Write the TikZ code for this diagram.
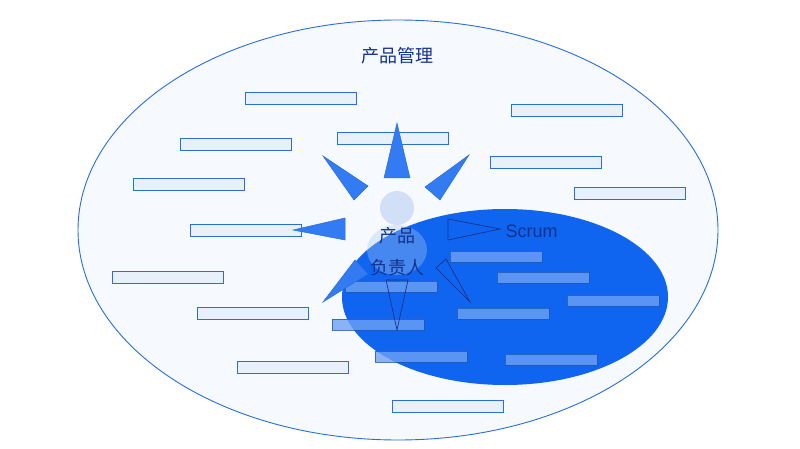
\documentclass[tikz,border=0pt]{standalone}
\usepackage{fontspec}
\usetikzlibrary{shapes.geometric}
\setmainfont{Liberation Sans}
\newfontfamily\cjk{Noto Sans CJK SC}
\definecolor{frameblue}{RGB}{40,110,220}
\definecolor{scrumblue}{RGB}{15,100,240}
\definecolor{barfill}{RGB}{232,240,250}
\definecolor{textblue}{RGB}{20,50,140}
\tikzset{taskbar/.style={draw=frameblue, fill=barfill, line width=0.9pt},
  ray/.style={fill=scrumblue!85!white, draw=frameblue, line width=0.5pt},
  rayopen/.style={draw=textblue, line width=0.7pt}}
\begin{document}
\begin{tikzpicture}[x=1pt, y=-1pt, font=\cjk\fontsize{18}{21}\selectfont]
  \useasboundingbox (0,0) rectangle (800,449);
  % Field
  \node[draw=frameblue, fill=barfill!40, line width=0.9pt, ellipse, minimum width=640pt, minimum height=420pt, inner sep=0pt] (field) at (398,230) {};
  \node[text=textblue] (title) at (397,56) {产品管理};
  % Backlog items
  \foreach \xa/\ya in {245/92, 180/138, 337/132, 511/104, 490/156, 133/178, 574/187, 190/224, 112/271, 197/307, 237/361, 392/400} {
    \draw[taskbar] (\xa,\ya) rectangle ++(111,12);
  }
  % Scrum team
  \fill[scrumblue] (505,297) ellipse (163pt and 88pt);
  \foreach \xa/\ya in {450/251, 497/272, 567/295, 457/308, 345/281, 332/319, 375/351, 505/354} {
    \draw[taskbar, draw=frameblue!80!black, fill=scrumblue!60!white, opacity=0.8] (\xa,\ya) rectangle ++(92,11);
  }
  % Owner
  \fill[barfill!70!frameblue, opacity=0.5] (397,208) circle (17pt);
  \fill[barfill!70!frameblue, opacity=0.35] (397,250) ellipse (30pt and 25pt);
  \draw[ray] (397,123) -- (410,178) -- (384,178) -- cycle;
  \draw[ray] (323,156) -- (368,186) -- (354,200) -- cycle;
  \draw[ray] (469,155) -- (440,200) -- (425,187) -- cycle;
  \draw[ray] (293,230) -- (345,218) -- (345,240) -- cycle;
  \draw[ray] (323,302) -- (355,260) -- (368,274) -- cycle;
  \draw[rayopen] (448,219) -- (500,229) -- (448,240) -- cycle;
  \draw[rayopen] (397,330) -- (386,280) -- (408,280) -- cycle;
  \draw[rayopen] (470,302) -- (436,268) -- (446,259) -- cycle;
  \node[text=textblue, font=\cjk\itshape\fontsize{18}{21}\selectfont] (owner) at (397,236) {产品};
  \node[text=textblue] (owner2) at (397,268) {负责人};
  \node[text=textblue, anchor=west, font=\fontsize{18}{21}\selectfont] (scrum) at (502,231) {Scrum};
\end{tikzpicture}
\end{document}
